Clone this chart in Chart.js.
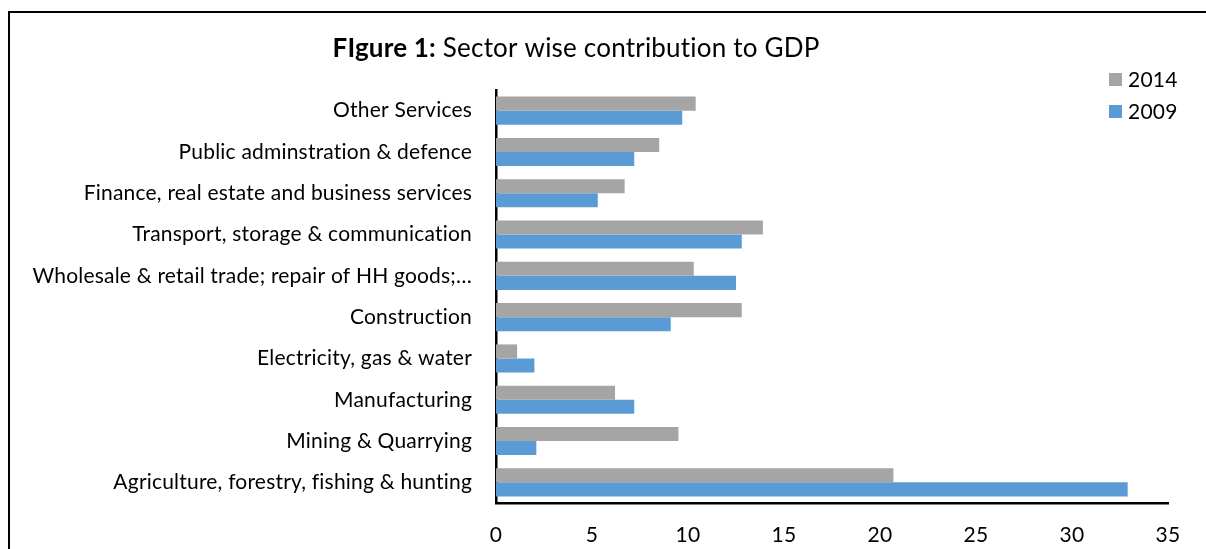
<!DOCTYPE html>
<html>
<head>
<meta charset="utf-8">
<script src="https://cdn.jsdelivr.net/npm/chart.js@4.4.1/dist/chart.umd.min.js"></script>
<style>
  html, body { margin: 0; padding: 0; background: #fff; }
  #wrap { width: 1206px; height: 549px; }
</style>
</head>
<body>
<div id="wrap"><canvas id="gdpChart"></canvas></div>
<script>
// data
const categories = [
  'Other Services',
  'Public adminstration & defence',
  'Finance, real estate and business services',
  'Transport, storage & communication',
  'Wholesale & retail trade; repair of HH goods;\u2026',
  'Construction',
  'Electricity, gas & water',
  'Manufacturing',
  'Mining & Quarrying',
  'Agriculture, forestry, fishing & hunting'
];
const values2014 = [10.4, 8.5, 6.7, 13.9, 10.3, 12.8, 1.1, 6.2, 9.5, 20.7];
const values2009 = [9.7, 7.2, 5.3, 12.8, 12.5, 9.1, 2.0, 7.2, 2.1, 32.9];
const seriesNames = ['2014', '2009'];
const xMin = 0, xMax = 35, xStep = 5;

const FONT = 'Lato, "Open Sans", sans-serif';

// frame, two-weight title and the small legend up in the corner
const decor = {
  id: 'decor',
  beforeDraw(chart) {
    // tiny spacing keeps Lato from joining "ti" / "fi"
    chart.ctx.letterSpacing = '0.2px';
  },
  afterDraw(chart) {
    const ctx = chart.ctx;
    ctx.save();
    ctx.strokeStyle = '#000';
    ctx.lineWidth = 2;
    ctx.strokeRect(9, 12, 1220, 560);

    // title
    const bold = 'FIgure 1:';
    const rest = ' Sector wise contribution to GDP';
    ctx.textBaseline = 'middle';
    ctx.fillStyle = '#000';
    ctx.font = 'bold 26px ' + FONT;
    const w1 = ctx.measureText(bold).width;
    ctx.font = '26px ' + FONT;
    const w2 = ctx.measureText(rest).width;
    let x = 576 - (w1 + w2) / 2;
    ctx.font = 'bold 26px ' + FONT;
    ctx.fillText(bold, x, 49);
    ctx.font = '26px ' + FONT;
    ctx.fillText(rest, x + w1, 49);

    // legend
    ctx.font = '21px ' + FONT;
    chart.data.datasets.forEach((ds, i) => {
      const y = 80 + i * 32;
      ctx.fillStyle = ds.backgroundColor;
      ctx.fillRect(1109, y - 7, 13, 13);
      ctx.fillStyle = '#000';
      ctx.fillText(ds.label, 1128, y);
    });
    ctx.restore();
  }
};

new Chart(document.getElementById('gdpChart'), {
  type: 'bar',
  data: {
    labels: categories,
    datasets: [
      { label: seriesNames[0], data: values2014, backgroundColor: '#A5A5A5' },
      { label: seriesNames[1], data: values2009, backgroundColor: '#5B9BD5' }
    ]
  },
  options: {
    indexAxis: 'y',
    responsive: true,
    maintainAspectRatio: false,
    animation: false,
    categoryPercentage: 0.68,
    barPercentage: 1.0,
    layout: { padding: { left: 9, right: 38, top: 90, bottom: 0 } },
    plugins: {
      legend: { display: false },
      title: { display: false },
      tooltip: { enabled: false }
    },
    scales: {
      x: {
        min: xMin,
        max: xMax,
        grid: { display: false, drawTicks: false },
        border: { display: true, color: '#000', width: 2.5 },
        ticks: {
          stepSize: xStep,
          padding: 20,
          color: '#000',
          font: { family: FONT, size: 21 }
        },
        afterFit(scale) { scale.height = 46; }
      },
      y: {
        grid: { display: false, drawTicks: false },
        border: { display: true, color: '#000', width: 2.5 },
        ticks: {
          padding: 24,
          color: '#000',
          autoSkip: false,
          font: { family: FONT, size: 21 }
        },
        afterFit(scale) { scale.width = 487; }
      }
    }
  },
  plugins: [decor]
});
</script>
</body>
</html>
